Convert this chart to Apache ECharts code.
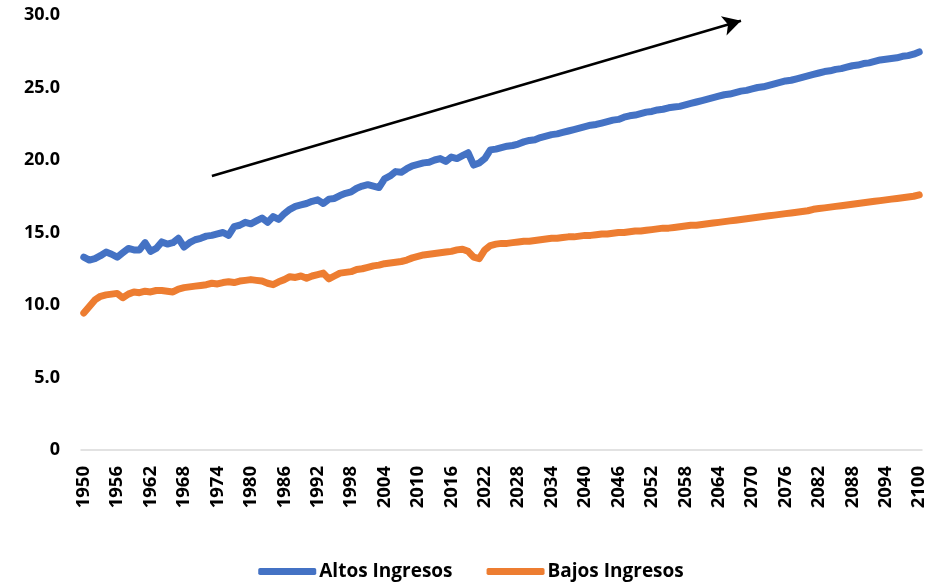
<!DOCTYPE html>
<html>
<head>
<meta charset="utf-8">
<script src="https://cdn.jsdelivr.net/npm/echarts@6/dist/echarts.min.js"></script>
<style>
html,body{margin:0;padding:0;background:#fff;}
#c{width:942px;height:586px;}
</style>
</head>
<body>
<div id="c"></div>
<script>
// Years 1950..2100 (categories)
const years = [];
for (let y = 1950; y <= 2100; y++) years.push(String(y));

const altosIngresos = [
13.3,13.1,13.2,13.4,13.65,13.5,13.3,13.6,13.9,13.8,
13.8,14.3,13.7,13.9,14.35,14.2,14.3,14.6,14.0,14.3,
14.5,14.6,14.75,14.8,14.9,15.0,14.8,15.4,15.5,15.7,
15.6,15.8,16.0,15.7,16.1,15.9,16.3,16.6,16.8,16.9,
17.0,17.15,17.25,17.0,17.3,17.35,17.55,17.7,17.8,18.05,
18.2,18.3,18.2,18.1,18.7,18.9,19.2,19.15,19.4,19.6,
19.7,19.8,19.85,20.0,20.1,19.9,20.2,20.1,20.3,20.5,
19.65,19.8,20.1,20.7,20.75,20.85,20.95,21.0,21.1,21.25,
21.35,21.4,21.55,21.65,21.75,21.8,21.9,22.0,22.1,22.2,
22.3,22.4,22.45,22.55,22.65,22.75,22.8,22.95,23.05,23.1,
23.2,23.3,23.35,23.45,23.5,23.6,23.65,23.7,23.8,23.9,
24.0,24.1,24.2,24.3,24.4,24.5,24.55,24.65,24.75,24.8,
24.9,25.0,25.05,25.15,25.25,25.35,25.45,25.5,25.6,25.7,
25.8,25.9,26.0,26.1,26.15,26.25,26.3,26.4,26.5,26.55,
26.65,26.7,26.8,26.9,26.95,27.0,27.05,27.15,27.2,27.3,
27.45
];

const bajosIngresos = [
9.45,9.9,10.35,10.6,10.7,10.75,10.8,10.5,10.75,10.9,
10.85,10.95,10.9,11.0,11.0,10.95,10.9,11.1,11.2,11.25,
11.3,11.35,11.4,11.5,11.45,11.55,11.6,11.55,11.65,11.7,
11.75,11.7,11.65,11.5,11.4,11.6,11.75,11.95,11.9,12.0,
11.85,12.0,12.1,12.2,11.8,12.0,12.2,12.25,12.3,12.45,
12.5,12.6,12.7,12.75,12.85,12.9,12.95,13.0,13.1,13.25,
13.35,13.45,13.5,13.55,13.6,13.65,13.7,13.8,13.85,13.7,
13.3,13.2,13.8,14.1,14.2,14.25,14.25,14.3,14.35,14.4,
14.4,14.45,14.5,14.55,14.6,14.6,14.65,14.7,14.7,14.75,
14.8,14.8,14.85,14.9,14.9,14.95,15.0,15.0,15.05,15.1,
15.1,15.15,15.2,15.25,15.3,15.3,15.35,15.4,15.45,15.5,
15.5,15.55,15.6,15.65,15.7,15.75,15.8,15.85,15.9,15.95,
16.0,16.05,16.1,16.15,16.2,16.25,16.3,16.35,16.4,16.45,
16.5,16.6,16.65,16.7,16.75,16.8,16.85,16.9,16.95,17.0,
17.05,17.1,17.15,17.2,17.25,17.3,17.35,17.4,17.45,17.5,
17.6
];

// Trend arrow annotation, in data coordinates [year, value]
const arrowStart = ['1973', 18.9];
const arrowEnd = ['2068', 29.6];

const seriesNames = ['Altos Ingresos', 'Bajos Ingresos'];
const colors = ['#4472C4', '#ED7D31'];
const FONT = 'Open Sans';

const chart = echarts.init(document.getElementById('c'));
chart.setOption({
  animation: false,
  backgroundColor: '#ffffff',
  color: colors,
  grid: { left: 81, right: 20, top: 15, bottom: 136, containLabel: false },
  legend: {
    data: seriesNames,
    bottom: 0,
    left: 'center',
    icon: 'roundRect',
    itemWidth: 58,
    itemHeight: 7,
    itemGap: 34,
    textStyle: { fontFamily: FONT, fontWeight: 'bold', fontSize: 19, color: '#000', padding: [0, 0, 0, -2] }
  },
  xAxis: {
    type: 'category',
    data: years,
    boundaryGap: true,
    axisLine: { lineStyle: { color: '#d9d9d9', width: 1.5 } },
    axisTick: { show: false },
    axisLabel: {
      interval: 5,
      rotate: 90,
      margin: 16,
      fontFamily: FONT, fontWeight: 'bold', fontSize: 18.5, color: '#000'
    },
    splitLine: { show: false }
  },
  yAxis: {
    type: 'value',
    min: 0, max: 30, interval: 5,
    axisLine: { show: false },
    axisTick: { show: false },
    splitLine: { show: false },
    axisLabel: {
      margin: 21,
      fontFamily: FONT, fontWeight: 'bold', fontSize: 18, color: '#000',
      formatter: v => v === 0 ? '0' : v.toFixed(1)
    }
  },
  series: [
    {
      name: seriesNames[0], type: 'line', data: altosIngresos,
      showSymbol: false, symbol: 'none',
      lineStyle: { width: 7, color: colors[0], cap: 'round', join: 'round' },
      markLine: {
        silent: true,
        symbol: ['none', 'arrow'],
        symbolSize: [15, 18],
        label: { show: false },
        lineStyle: { color: '#000', width: 2.5, type: 'solid' },
        data: [[{ coord: arrowStart }, { coord: arrowEnd }]]
      }
    },
    {
      name: seriesNames[1], type: 'line', data: bajosIngresos,
      showSymbol: false, symbol: 'none',
      lineStyle: { width: 7, color: colors[1], cap: 'round', join: 'round' }
    }
  ]
});
</script>
</body>
</html>
